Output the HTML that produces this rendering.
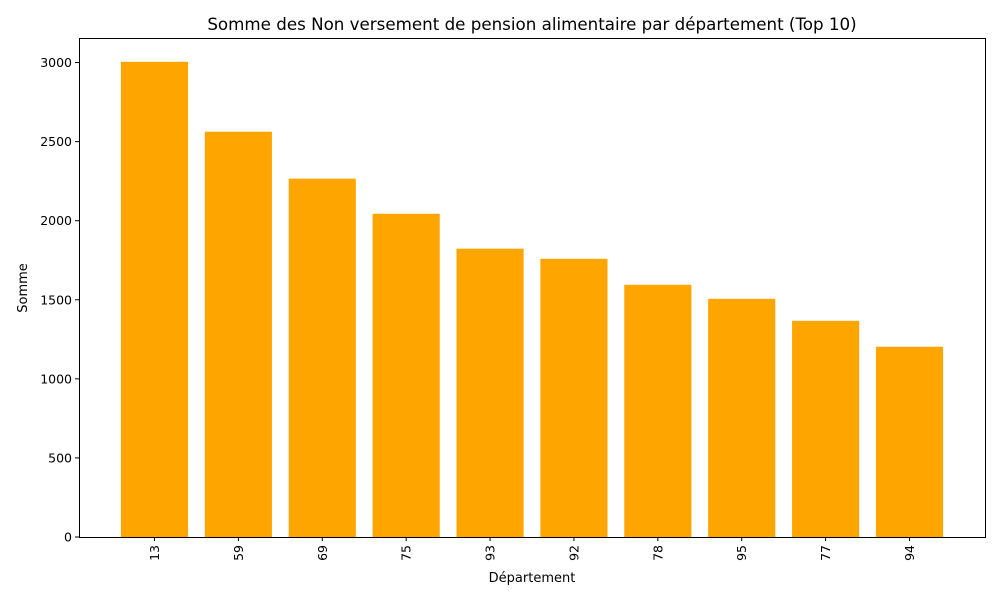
<!DOCTYPE html>
<html><head><meta charset="utf-8"><style>
body{margin:0;background:#fff;}
svg text{font-family:"DejaVu Sans","Liberation Sans",sans-serif;fill:#000;}
</style></head><body>
<svg id="chart" width="1000" height="600" xmlns="http://www.w3.org/2000/svg">
<rect width="1000" height="600" fill="#fff"/>
<text x="532" y="30" font-size="16.7" text-anchor="middle">Somme des Non versement de pension alimentaire par département (Top 10)</text>
<g id="bars"></g><g id="xticks"></g><g id="yticks"></g>
<rect x="79.5" y="38.5" width="906" height="499" fill="none" stroke="#000" stroke-width="1"/>
<text x="532" y="582" font-size="13" text-anchor="middle">Département</text>
<text transform="translate(27,288) rotate(-90)" font-size="13" text-anchor="middle">Somme</text>
</svg>
<script>
const categories=["13","59","69","75","93","92","78","95","77","94"];
const values=[3005,2563,2266,2044,1823,1759,1595,1506,1367,1203];
const yTicks=[0,500,1000,1500,2000,2500,3000];
const NS="http://www.w3.org/2000/svg";
const L=79,R=985,T=38,B=537;
const yMax=Math.max(...values)*1.05;
const xMin=-0.9,xMax=categories.length-0.1;
const xs=i=>L+(i-xMin)/(xMax-xMin)*(R-L);
const ys=v=>B-v/yMax*(B-T);
const step=(R-L)/(xMax-xMin);
function mk(tag,attrs,parent){const e=document.createElementNS(NS,tag);for(const k in attrs)e.setAttribute(k,attrs[k]);parent.appendChild(e);return e;}
const gb=document.getElementById('bars'),gx=document.getElementById('xticks'),gy=document.getElementById('yticks');
values.forEach((v,i)=>{
  const w=0.8*step;
  const r=mk('rect',{x:xs(i)-w/2,y:ys(v),width:w,height:B-ys(v),fill:'#ffa500'},gb);
  
  
  const t=mk('line',{x1:xs(i),x2:xs(i),y1:B,y2:B+4,stroke:'#000'},gx);
  
  
  const lb=mk('text',{transform:`translate(${xs(i)+4.5},${B+8}) rotate(-90)`,'font-size':12.5,'text-anchor':'end'},gx);
  lb.textContent=categories[i];
  
  
});
yTicks.forEach(v=>{
  const y=ys(v);
  const t=mk('line',{x1:L-4,x2:L,y1:y,y2:y,stroke:'#000'},gy);
  
  
  const lb=mk('text',{x:L-7,y:y+4.5,'font-size':12.5,'text-anchor':'end'},gy);
  lb.textContent=v;
  
  
});
</script>
</body></html>
